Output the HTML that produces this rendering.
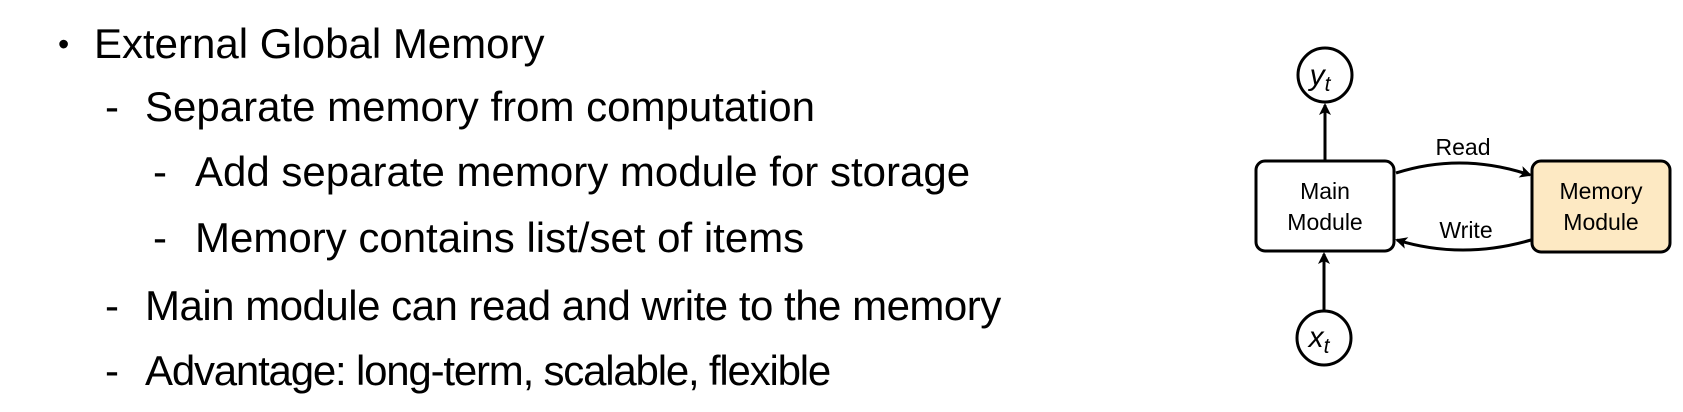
<!DOCTYPE html>
<html><head><meta charset="utf-8"><style>
body{margin:0;width:1683px;height:412px;background:#fff;overflow:hidden;position:relative;font-family:"Liberation Sans",sans-serif;color:#000}
.t{position:absolute;font-size:42px;white-space:nowrap;line-height:1}
</style></head><body>
<div class="t" style="left:58px;top:28px;font-size:32px">•</div>
<div class="t" style="left:94px;top:23px">External Global Memory</div>
<div class="t" style="left:105px;top:86px">-</div>
<div class="t" style="left:145px;top:86px">Separate memory from computation</div>
<div class="t" style="left:153px;top:151px">-</div>
<div class="t" style="left:195px;top:151px">Add separate memory module for storage</div>
<div class="t" style="left:153px;top:217px">-</div>
<div class="t" style="left:195px;top:217px">Memory contains list/set of items</div>
<div class="t" style="left:105px;top:285px">-</div>
<div class="t" style="left:145px;top:285px;letter-spacing:-0.5px">Main module can read and write to the memory</div>
<div class="t" style="left:105px;top:350px">-</div>
<div class="t" style="left:145px;top:350px;letter-spacing:-1.2px">Advantage: long-term, scalable, flexible</div>
<svg width="1683" height="412" style="position:absolute;left:0;top:0" font-family="Liberation Sans, sans-serif">
<defs><marker id="a" markerWidth="12" markerHeight="12" refX="10" refY="6" orient="auto" markerUnits="userSpaceOnUse"><path d="M0,0 L12,6 L0,12 L3,6 z" fill="#000"/></marker></defs>
<g stroke="#000" stroke-width="3" fill="none">
<circle cx="1325" cy="75" r="27" fill="#fff"/>
<circle cx="1324" cy="338" r="27" fill="#fff"/>
<rect x="1256" y="161" width="138" height="90" rx="9" fill="#fff"/>
<rect x="1532" y="161" width="138" height="91" rx="9" fill="#fde9c3"/>
<line x1="1325" y1="160" x2="1325" y2="105" marker-end="url(#a)"/>
<line x1="1324" y1="310" x2="1324" y2="254" marker-end="url(#a)"/>
<path d="M1396,173 Q1462,152 1530,175" marker-end="url(#a)"/>
<path d="M1531,240 Q1462,260 1397,240" marker-end="url(#a)"/>
</g>
<g font-size="23" text-anchor="middle">
<text x="1325" y="199">Main</text><text x="1325" y="230">Module</text>
<text x="1601" y="199">Memory</text><text x="1601" y="230">Module</text>
<text x="1463" y="155">Read</text><text x="1466" y="238">Write</text>
</g>
<g font-size="30" font-style="italic" text-anchor="middle">
<text x="1320" y="85">y<tspan font-size="21" dy="6">t</tspan></text>
<text x="1319" y="347">x<tspan font-size="21" dy="6">t</tspan></text>
</g>
</svg>
</body></html>
